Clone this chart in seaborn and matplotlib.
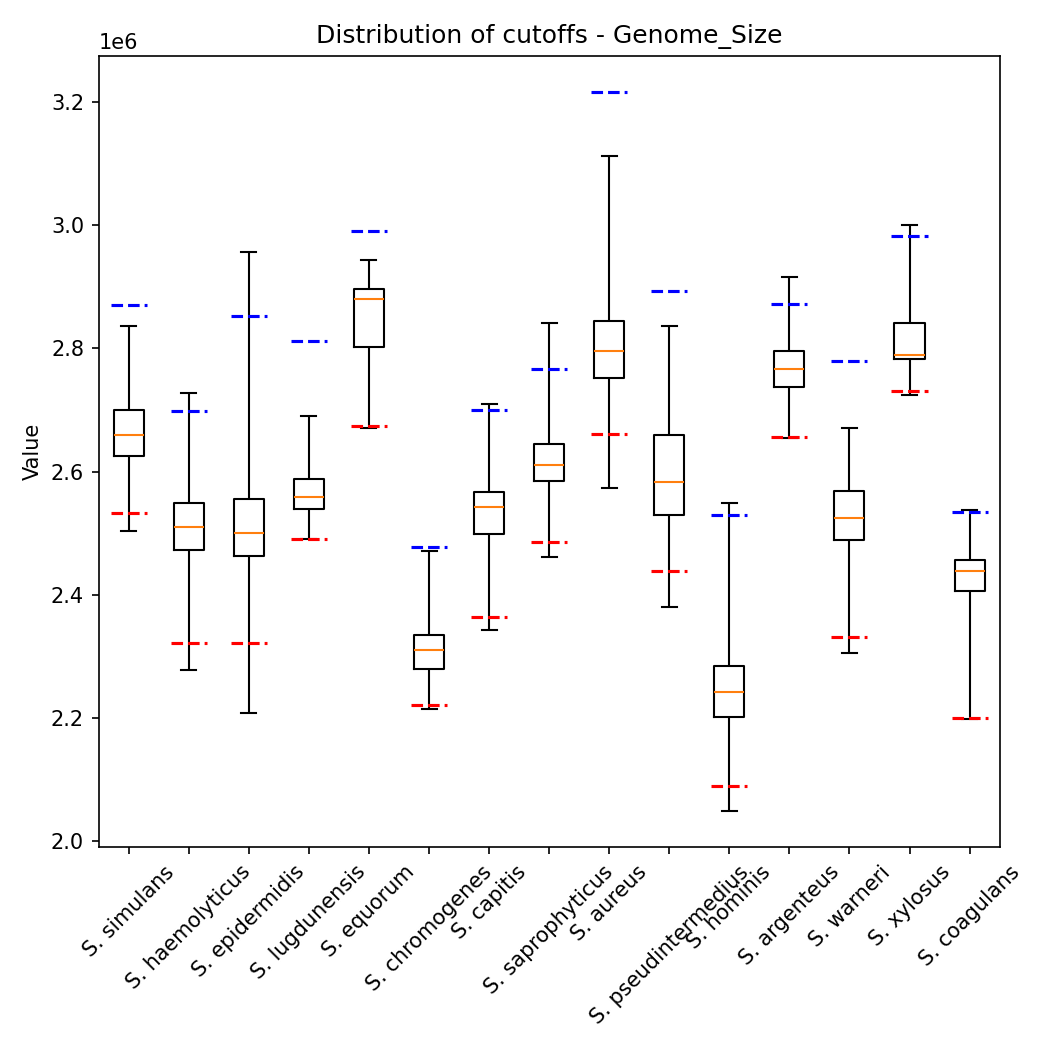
import pandas as pd
import numpy as np
import matplotlib
matplotlib.use("Agg")
import matplotlib.pyplot as plt
import seaborn as sns

species = ["S. simulans", "S. haemolyticus", "S. epidermidis", "S. lugdunensis", "S. equorum",
           "S. chromogenes", "S. capitis", "S. saprophyticus", "S. aureus", "S. pseudintermedius",
           "S. hominis", "S. argenteus", "S. warneri", "S. xylosus", "S. coagulans"]

# genome sizes in millions of bp
minimo  = [2.503, 2.278, 2.207, 2.490, 2.671, 2.214, 2.342, 2.461, 2.574, 2.380, 2.048, 2.655, 2.306, 2.725, 2.198]
q1      = [2.625, 2.473, 2.462, 2.539, 2.802, 2.280, 2.498, 2.585, 2.752, 2.529, 2.202, 2.738, 2.488, 2.783, 2.406]
mediana = [2.659, 2.510, 2.500, 2.559, 2.881, 2.310, 2.543, 2.611, 2.796, 2.583, 2.242, 2.766, 2.525, 2.790, 2.439]
q3      = [2.700, 2.549, 2.555, 2.588, 2.897, 2.335, 2.566, 2.645, 2.844, 2.660, 2.284, 2.795, 2.569, 2.842, 2.457]
maximo  = [2.836, 2.727, 2.956, 2.690, 2.943, 2.471, 2.710, 2.842, 3.112, 2.837, 2.549, 2.916, 2.671, 3.000, 2.538]

corte_sup = [2.871, 2.698, 2.853, 2.812, 2.991, 2.477, 2.700, 2.766, 3.217, 2.893, 2.530, 2.872, 2.779, 2.983, 2.535]
corte_inf = [2.532, 2.322, 2.322, 2.491, 2.674, 2.221, 2.363, 2.486, 2.661, 2.439, 2.089, 2.656, 2.332, 2.730, 2.199]

linhas = []
for i, sp in enumerate(species):
    for v in [minimo[i], q1[i], mediana[i], q3[i], maximo[i]]:
        linhas.append({"Species": sp, "Value": v * 1e6})
df = pd.DataFrame(linhas)

fig, ax = plt.subplots(figsize=(7, 7), dpi=150)
sns.boxplot(data=df, x="Species", y="Value", order=species, whis=(0, 100), width=0.5,
            fill=False, color="black", linecolor="black", linewidth=1,
            medianprops={"color": "#ff7f0e"}, ax=ax)

pos = np.arange(len(species))
ax.hlines(np.array(corte_sup) * 1e6, pos - 0.3, pos + 0.3, colors="blue", linestyles="--", linewidth=1.5)
ax.hlines(np.array(corte_inf) * 1e6, pos - 0.3, pos + 0.3, colors="red", linestyles="--", linewidth=1.5)

ax.set_xlim(-0.5, len(species) - 0.5)
ax.set_title("Distribution of cutoffs - Genome_Size")
ax.set_xlabel("")
ax.set_ylabel("Value")
plt.xticks(rotation=45)
plt.subplots_adjust(left=0.094, right=0.952, top=0.947, bottom=0.193)
plt.savefig("out.png")
